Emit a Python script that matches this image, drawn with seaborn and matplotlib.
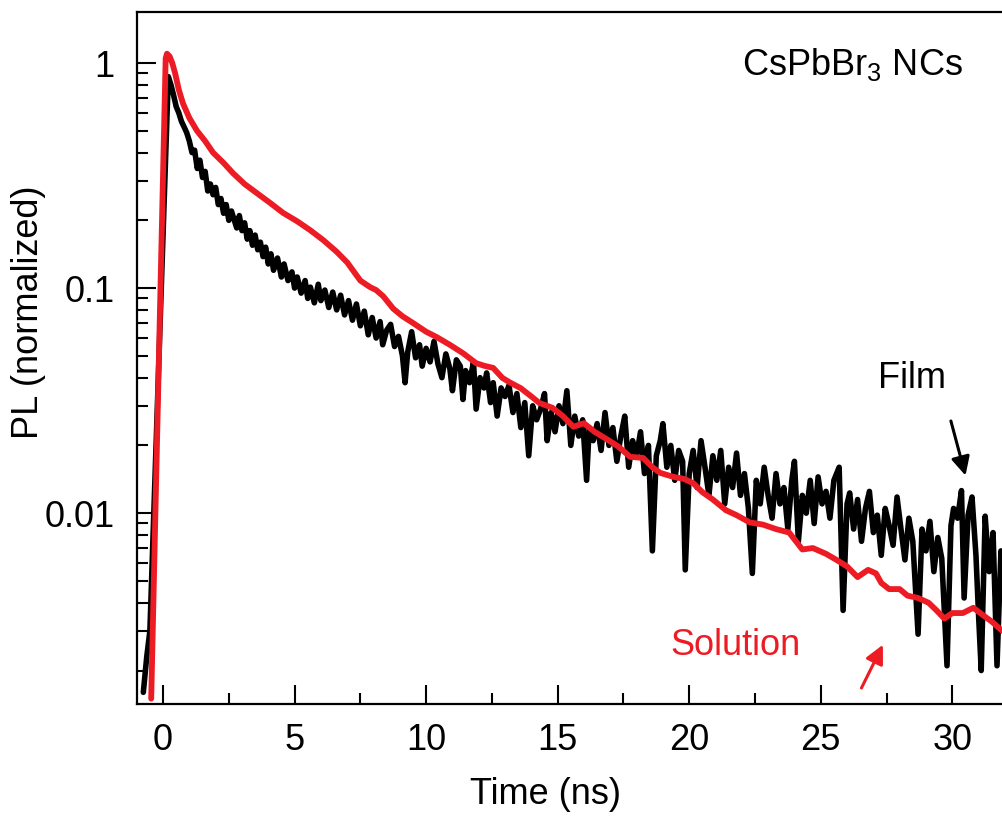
import numpy as np
import pandas as pd
import seaborn as sns
import matplotlib
matplotlib.use("Agg")
import matplotlib.pyplot as plt
from matplotlib.ticker import FixedLocator, FixedFormatter, LogLocator, NullFormatter, MultipleLocator

# Solution PL decay (red)
sol_t = [-0.45, 0.1, 0.15, 0.25, 0.35, 0.46, 0.6, 0.76, 1.0, 1.29, 1.6, 1.9, 2.3, 2.66,
         3.1, 3.57, 4.05, 4.56, 5.1, 5.59, 6.1, 6.6, 7.0, 7.5, 7.87, 8.1, 8.37, 8.75,
         9.1, 9.5, 10.0, 10.4, 10.9, 11.4, 11.9, 12.2, 12.55, 12.9, 13.2, 13.6, 14.0,
         14.3, 14.8, 15.2, 15.6, 16.0, 16.4, 16.9, 17.3, 17.75, 18.25, 18.6, 18.9, 19.4,
         19.8, 20.15, 20.5, 20.9, 21.4, 21.8, 22.3, 22.8, 23.3, 23.8, 24.3, 24.7, 25.2,
         25.6, 26.0, 26.4, 26.8, 27.1, 27.3, 27.6, 28.0, 28.3, 28.7, 29.1, 29.4, 29.7,
         30.0, 30.4, 30.8, 31.2, 31.5, 31.9]
sol_pl = [0.0015, 1.05, 1.1, 1.07, 1.0, 0.9, 0.76, 0.66, 0.57, 0.5, 0.45, 0.40, 0.36, 0.324,
          0.29, 0.264, 0.24, 0.216, 0.198, 0.181, 0.163, 0.145, 0.13, 0.108, 0.101, 0.098,
          0.092, 0.081, 0.075, 0.070, 0.064, 0.0606, 0.056, 0.0514, 0.0464, 0.0452, 0.0442,
          0.0399, 0.038, 0.0359, 0.033, 0.0309, 0.0294, 0.027, 0.0242, 0.0251, 0.023,
          0.0212, 0.0198, 0.0178, 0.0176, 0.016, 0.0151, 0.0145, 0.0142, 0.0136, 0.0124,
          0.0115, 0.0103, 0.0098, 0.0091, 0.0089, 0.0085, 0.0082, 0.0069, 0.0070, 0.0066,
          0.0062, 0.0058, 0.0052, 0.0056, 0.0054, 0.0049, 0.0046, 0.0046, 0.0043, 0.0042,
          0.0040, 0.0037, 0.0034, 0.0036, 0.0036, 0.0038, 0.0035, 0.0033, 0.0030]

# Film PL decay (black, noisy)
film_t = [-0.75, -0.62, -0.5, 0.2, 0.3, 0.4, 0.5, 0.6, 0.7, 0.8, 0.9, 1.0, 1.1, 1.2, 1.3,
          1.4, 1.5, 1.6, 1.7, 1.8, 1.9, 2.0, 2.1, 2.2, 2.3, 2.4, 2.5, 2.6, 2.8, 2.9, 3.0,
          3.1, 3.2, 3.3, 3.4, 3.5, 3.6, 3.7, 3.8, 3.9, 4.0, 4.1, 4.2, 4.35, 4.5, 4.6, 4.75,
          4.9, 5.0, 5.1, 5.25, 5.4, 5.5, 5.6, 5.75, 5.9, 6.0, 6.15, 6.3, 6.45, 6.6, 6.75,
          6.9, 7.05, 7.2, 7.35, 7.5, 7.65, 7.8, 7.95, 8.1, 8.25, 8.35, 8.5, 8.65, 8.8, 8.95,
          9.1, 9.2, 9.3, 9.45, 9.6, 9.75, 9.85, 10.0, 10.15, 10.3, 10.45, 10.6, 10.75, 10.9,
          11.0, 11.15, 11.3, 11.4, 11.5, 11.65, 11.8, 11.9, 12.05, 12.2, 12.3, 12.45, 12.55,
          12.7, 12.85, 13.0, 13.15, 13.3, 13.45, 13.6, 13.75, 13.9, 14.05, 14.2, 14.35, 14.5,
          14.6, 14.75, 14.9, 15.05, 15.2, 15.35, 15.5, 15.65, 15.8, 15.95, 16.1, 16.2, 16.35,
          16.5, 16.65, 16.8, 16.95, 17.1, 17.25, 17.4, 17.55, 17.7, 17.85, 18.0, 18.15, 18.3,
          18.45, 18.6, 18.75, 18.9, 19.0, 19.15, 19.3, 19.45, 19.6, 19.75, 19.85, 20.0, 20.15,
          20.3, 20.45, 20.6, 20.75, 20.9, 21.05, 21.2, 21.35, 21.5, 21.65, 21.8, 21.95, 22.1,
          22.25, 22.4, 22.55, 22.7, 22.85, 23.0, 23.15, 23.3, 23.45, 23.6, 23.75, 23.9, 24.0,
          24.15, 24.3, 24.45, 24.6, 24.75, 24.9, 25.05, 25.2, 25.35, 25.5, 25.7, 25.85, 26.0,
          26.1, 26.25, 26.4, 26.55, 26.7, 26.85, 27.0, 27.15, 27.3, 27.45, 27.6, 27.75, 27.9,
          28.05, 28.2, 28.35, 28.5, 28.7, 28.85, 29.0, 29.15, 29.3, 29.45, 29.6, 29.8, 29.95,
          30.05, 30.2, 30.35, 30.45, 30.6, 30.75, 30.9, 31.0, 31.1, 31.25, 31.4, 31.55, 31.7,
          31.85, 32.0]
film_pl = [0.0016, 0.0023, 0.003, 0.87, 0.80, 0.72, 0.64, 0.60, 0.55, 0.52, 0.49, 0.45, 0.40,
           0.41, 0.34, 0.37, 0.31, 0.33, 0.27, 0.29, 0.26, 0.28, 0.235, 0.25, 0.215, 0.235,
           0.2, 0.22, 0.185, 0.21, 0.18, 0.195, 0.165, 0.18, 0.155, 0.172, 0.148, 0.16, 0.138,
           0.152, 0.128, 0.142, 0.12, 0.136, 0.112, 0.128, 0.108, 0.118, 0.1, 0.112, 0.095,
           0.108, 0.09, 0.101, 0.086, 0.104, 0.088, 0.098, 0.082, 0.096, 0.08, 0.093, 0.076,
           0.088, 0.072, 0.085, 0.068, 0.079, 0.062, 0.074, 0.06, 0.071, 0.056, 0.065, 0.069,
           0.055, 0.061, 0.05, 0.038, 0.052, 0.064, 0.049, 0.056, 0.045, 0.054, 0.047, 0.058,
           0.046, 0.04, 0.051, 0.044, 0.035, 0.048, 0.045, 0.032, 0.043, 0.038, 0.047, 0.029,
           0.040, 0.036, 0.042, 0.031, 0.038, 0.027, 0.036, 0.033, 0.037, 0.028, 0.034, 0.024,
           0.031, 0.018, 0.03, 0.026, 0.029, 0.034, 0.021, 0.028, 0.023, 0.03, 0.025, 0.035,
           0.02, 0.027, 0.022, 0.026, 0.014, 0.024, 0.021, 0.025, 0.019, 0.028, 0.02, 0.024,
           0.017, 0.022, 0.027, 0.016, 0.021, 0.018, 0.023, 0.015, 0.02, 0.0068, 0.018, 0.021,
           0.025, 0.016, 0.02, 0.014, 0.019, 0.017, 0.0056, 0.015, 0.019, 0.013, 0.021, 0.016,
           0.012, 0.018, 0.014, 0.019, 0.011, 0.016, 0.013, 0.0185, 0.012, 0.015, 0.0105,
           0.0054, 0.014, 0.011, 0.016, 0.012, 0.0095, 0.015, 0.011, 0.013, 0.0085, 0.014,
           0.017, 0.0075, 0.012, 0.01, 0.014, 0.009, 0.0145, 0.011, 0.0125, 0.0095, 0.014,
           0.016, 0.0037, 0.011, 0.0123, 0.0085, 0.0115, 0.0075, 0.0105, 0.0125, 0.0082,
           0.0098, 0.0065, 0.0105, 0.0088, 0.0072, 0.0118, 0.0085, 0.0062, 0.0095, 0.0075,
           0.0029, 0.0085, 0.0068, 0.0092, 0.0055, 0.0078, 0.0063, 0.0021, 0.0088, 0.0105,
           0.0095, 0.0126, 0.0042, 0.0098, 0.0118, 0.0065, 0.0035, 0.002, 0.0097, 0.0055,
           0.0082, 0.0021, 0.0068, 0.0045]

film_df = pd.DataFrame({'Time (ns)': film_t, 'PL': film_pl})
sol_df = pd.DataFrame({'Time (ns)': sol_t, 'PL': sol_pl})

sns.set_theme(style='ticks')
plt.rcParams['font.family'] = ['Liberation Sans', 'DejaVu Sans']
plt.rcParams['mathtext.fontset'] = 'custom'
plt.rcParams['mathtext.rm'] = 'Liberation Sans'
plt.rcParams['text.color'] = 'black'
plt.rcParams['axes.labelcolor'] = 'black'
plt.rcParams['xtick.color'] = 'black'
plt.rcParams['ytick.color'] = 'black'

red = '#ED1C24'
fig = plt.figure(figsize=(10.02, 8.16), dpi=100)
ax = fig.add_axes([137 / 1002, 112 / 816, (1002 - 137) / 1002, 692 / 816])

sns.lineplot(data=film_df, x='Time (ns)', y='PL', color='black', lw=4.0,
             estimator=None, sort=False, ax=ax)
sns.lineplot(data=sol_df, x='Time (ns)', y='PL', color=red, lw=4.2,
             estimator=None, sort=False, ax=ax)

ax.set_yscale('log')
ax.set_xlim(-0.99, 31.89)
ax.set_ylim(0.00142, 1.685)

ax.xaxis.set_major_locator(MultipleLocator(5))
ax.xaxis.set_minor_locator(MultipleLocator(2.5))
ax.yaxis.set_major_locator(FixedLocator([0.01, 0.1, 1]))
ax.yaxis.set_major_formatter(FixedFormatter(['0.01', '0.1', '1']))
ax.yaxis.set_minor_locator(LogLocator(base=10, subs=np.arange(2, 10)))
ax.yaxis.set_minor_formatter(NullFormatter())

ax.tick_params(which='major', direction='in', length=14, width=1.5, labelsize=26,
               color='black', labelcolor='black')
ax.tick_params(which='minor', direction='in', length=8, width=1.5, color='black')
ax.tick_params(axis='y', which='both', pad=16)
ax.tick_params(axis='x', which='both', pad=14, top=False)
ax.tick_params(axis='y', right=False)

for s in ['left', 'bottom', 'top']:
    ax.spines[s].set_linewidth(1.6)
    ax.spines[s].set_color('black')
ax.spines['right'].set_visible(False)

ax.set_xlabel('Time (ns)', fontsize=26, color='black')
ax.set_ylabel('PL (normalized)', fontsize=26, color='black')
ax.xaxis.set_label_coords(0.472, -0.105)
ax.yaxis.set_label_coords(-0.105, 0.566)

ax.text(26.2, 0.98, r'CsPbBr$_\mathrm{3}$ NCs', fontsize=26, ha='center', va='center', color='black')
ax.text(28.48, 0.0398, 'Film', fontsize=26, ha='center', va='center', color='black')
ax.text(21.75, 0.00259, 'Solution', fontsize=26, ha='center', va='center', color=red)

ax.annotate('', xy=(30.53, 0.0143), xytext=(29.92, 0.0264),
            arrowprops=dict(arrowstyle='-|>', color='black', lw=2.2, mutation_scale=28))
ax.annotate('', xy=(27.41, 0.00267), xytext=(26.5, 0.00163),
            arrowprops=dict(arrowstyle='-|>', color=red, lw=2.2, mutation_scale=28))

fig.savefig('out.png', dpi=100)
